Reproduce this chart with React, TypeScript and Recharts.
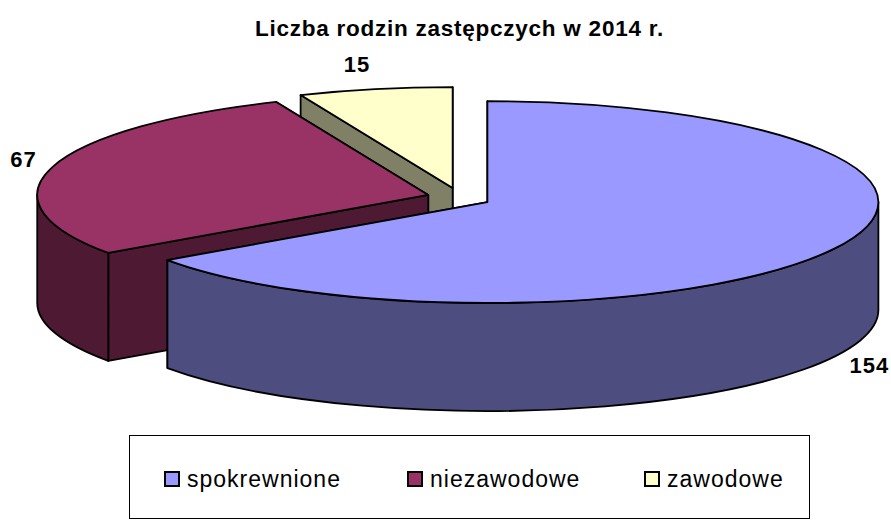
/**
 * FosterFamiliesPie
 *
 * Exploded "3D" pie of foster families in 2014. Recharts works out the angles,
 * the custom sector shape flattens them to an ellipse and adds the walls.
 */

import React from 'react';
import { PieChart, Pie, Legend } from 'recharts';

const TITLE = 'Liczba rodzin zastępczych w 2014 r.';
const categories = ['spokrewnione', 'niezawodowe', 'zawodowe'];
const values = [154, 67, 15];
const topColors = ['#9999FF', '#993366', '#FFFFCC'];
const wallColors = ['#4D4D80', '#4D1933', '#808066'];

// Slices are painted back to front, so the table runs in reverse and the pie counter-clockwise
const tableData = categories
    .map((name, i) => ({ name, value: values[i], fill: topColors[i], wall: wallColors[i] }))
    .reverse();

const FONT = '"Liberation Sans", Arial, sans-serif';
const INK = '#000';
const TILT = 0.258; // ry / rx of the flattened pie
const DEPTH = 108; // wall height
const EXPLODE_X = 32;
const EXPLODE_Y = 9.8;
const RAD = Math.PI / 180;

const labelShift: Record<string, [number, number]> = {
    spokrewnione: [35, 117],
    niezawodowe: [-29, -8],
    zawodowe: [-18, -25],
};

const apexOf = (cx: number, cy: number, midAngle: number) => ({
    x: cx + EXPLODE_X * Math.cos(midAngle * RAD),
    y: cy - EXPLODE_Y * Math.sin(midAngle * RAD),
});

const ThickSector = (props: any) => {
    const { cx, cy, outerRadius: r, startAngle, endAngle, fill, wall, midAngle } = props;
    const mid = midAngle ?? (startAngle + endAngle) / 2;
    const apex = apexOf(cx, cy, mid);
    const ry = r * TILT;
    const rim = (a: number) => ({
        x: apex.x + r * Math.cos(a * RAD),
        y: apex.y - ry * Math.sin(a * RAD),
    });
    const s = rim(startAngle);
    const e = rim(endAngle);
    const large = endAngle - startAngle > 180 ? 1 : 0;

    const cutWall = (p: { x: number; y: number }) =>
        `M${apex.x},${apex.y} L${p.x},${p.y} L${p.x},${p.y + DEPTH} L${apex.x},${apex.y + DEPTH} Z`;

    // only the front half of the rim (180..360 deg) shows a wall
    const from = Math.max(startAngle, 180);
    const to = Math.min(endAngle, 360);
    let outer = '';
    if (from < to) {
        const a = rim(from);
        const b = rim(to);
        const big = to - from > 180 ? 1 : 0;
        outer =
            `M${a.x},${a.y} A${r},${ry} 0 ${big} 0 ${b.x},${b.y} ` +
            `L${b.x},${b.y + DEPTH} A${r},${ry} 0 ${big} 1 ${a.x},${a.y + DEPTH} Z`;
    }

    const lineProps = { stroke: INK, strokeWidth: 1.8, strokeLinejoin: 'round' as const };
    return (
        <g>
            <path d={cutWall(s)} fill={wall} {...lineProps} />
            <path d={cutWall(e)} fill={wall} {...lineProps} />
            {outer && <path d={outer} fill={wall} {...lineProps} />}
            <path
                d={`M${apex.x},${apex.y} L${s.x},${s.y} A${r},${ry} 0 ${large} 0 ${e.x},${e.y} Z`}
                fill={fill}
                {...lineProps}
            />
        </g>
    );
};

const renderLabel = (props: any) => {
    const { cx, cy, outerRadius: r, midAngle, name, value } = props;
    const apex = apexOf(cx, cy, midAngle);
    const [dx, dy] = labelShift[name];
    return (
        <text
            x={apex.x + r * Math.cos(midAngle * RAD) + dx}
            y={apex.y - r * TILT * Math.sin(midAngle * RAD) + dy}
            textAnchor="middle"
            dominantBaseline="central"
            fontFamily={FONT}
            fontWeight="bold"
            fontSize={22}
            letterSpacing={1}
            fill={INK}
        >
            {value}
        </text>
    );
};

const renderLegend = () => (
    <div
        style={{
            boxSizing: 'border-box',
            width: 681,
            height: 84,
            border: '1.5px solid #000',
            background: '#fff',
            position: 'relative',
            fontFamily: FONT,
            fontSize: 23,
            letterSpacing: 1,
            color: INK,
        }}
    >
        {categories.map((name, i) => (
            <div
                key={name}
                style={{
                    position: 'absolute',
                    left: [34, 277, 514][i],
                    top: 27,
                    display: 'flex',
                    alignItems: 'center',
                    height: 32,
                    whiteSpace: 'nowrap',
                }}
            >
                <span
                    style={{
                        boxSizing: 'border-box',
                        width: 16,
                        height: 16,
                        background: topColors[i],
                        border: '2px solid #000',
                        marginRight: 7,
                        display: 'inline-block',
                    }}
                />
                {name}
            </div>
        ))}
    </div>
);

export default function App() {
    return (
        <div style={{ position: 'absolute', left: 0, top: 0, width: 891, height: 520, background: '#fff' }}>
            <PieChart width={891} height={520} margin={{ top: 0, right: 0, bottom: 0, left: 0 }}>
                <text
                    x={459.5}
                    y={28}
                    textAnchor="middle"
                    dominantBaseline="central"
                    fontFamily={FONT}
                    fontWeight="bold"
                    fontSize={22.5}
                    letterSpacing={0.75}
                    fill={INK}
                >
                    {TITLE}
                </text>
                <Pie
                    data={tableData}
                    dataKey="value"
                    nameKey="name"
                    cx={459}
                    cy={197.6}
                    innerRadius={0}
                    outerRadius={391}
                    startAngle={90}
                    endAngle={450}
                    label={renderLabel}
                    labelLine={false}
                    shape={ThickSector}
                    stroke="none"
                    isAnimationActive={false}
                />
                <Legend
                    content={renderLegend}
                    wrapperStyle={{ position: 'absolute', left: 129, top: 435, width: 681, height: 84, bottom: 'auto' }}
                />
            </PieChart>
        </div>
    );
}
